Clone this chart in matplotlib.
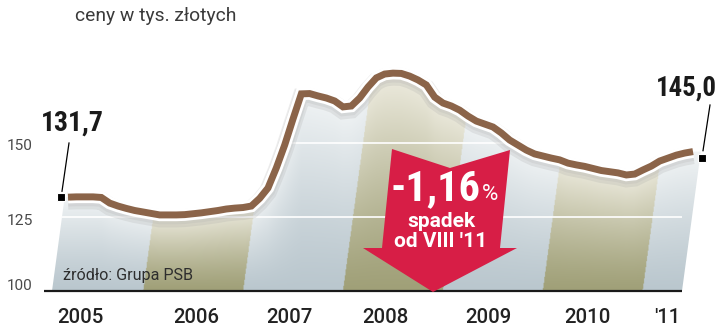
import numpy as np
import matplotlib
matplotlib.use('Agg')
import matplotlib.pyplot as plt
from matplotlib import font_manager as fm
from matplotlib.patches import Polygon
import matplotlib.patheffects as pe

# ---------------- data ----------------
start_year, start_month = 2005, 4          # first monthly reading
prices = [131.7, 131.8, 131.8, 131.8, 131.6, 129.7, 128.7, 127.9, 127.2, 126.7,
          126.2, 125.7, 125.7, 125.7, 125.8, 126.1, 126.4, 126.8, 127.2, 127.7,
          128.0, 128.2, 128.7, 131.3, 134.8, 141.6, 149.3, 158.1, 166.6, 166.7,
          165.9, 165.2, 164.2, 162.2, 162.5, 165.2, 168.9, 172.0, 173.3, 173.6,
          173.5, 172.6, 171.3, 169.6, 165.5, 163.5, 162.5, 161.1, 159.1, 157.4,
          156.4, 155.4, 153.4, 151.0, 149.3, 147.6, 146.3, 145.6, 144.9, 144.3,
          143.2, 142.6, 142.1, 141.4, 140.7, 140.3, 139.9, 139.2, 139.5, 140.9,
          142.2, 143.9, 144.9, 145.9, 146.6, 147.1]
years = [2005, 2006, 2007, 2008, 2009, 2010, 2011]
year_labels = ['2005', '2006', '2007', '2008', '2009', '2010', "'11"]
yticks = [100, 125, 150]
first_value, last_value = 131.7, 145.0
first_label, last_label = '131,7', '145,0'
change_big, change_pct = '-1,16', '%'
change_l1, change_l2 = 'spadek', "od VIII '11"
title = 'ceny w tys. złotych'
source = 'źródło: Grupa PSB'

# ---------------- fonts ----------------
avail = {f.name for f in fm.fontManager.ttflist}
def pick(*names):
    for n in names:
        if n in avail:
            return n
    return 'DejaVu Sans'
F_REG = pick('Roboto', 'Open Sans', 'DejaVu Sans')
F_COND = pick('Roboto Condensed', 'Liberation Sans Narrow', 'Roboto', 'DejaVu Sans')

# ---------------- layout ----------------
W, H = 720, 330
fig = plt.figure(figsize=(W / 100, H / 100), dpi=100)
ax = fig.add_axes([0, 0, 1, 1])
PX0, PXY = 43, 100.0        # px of 2005.0 at baseline, px per year
PY0, PYV = 291, 2.96        # px of value 100, px per unit
def X(px): return 2005 + (px - PX0) / PXY
def Y(py): return 100 + (PY0 - py) / PYV
ax.set_xlim(X(0), X(W))
ax.set_ylim(Y(H), Y(0))
ax.axis('off')

skew = 0.135 * PYV / PXY      # years of shift per value unit
x_left, x_right = X(52), X(682)

t = start_year + (start_month - 1 + np.arange(len(prices))) / 12.0
v = np.array(prices)

# ---------------- banded gradient fill ----------------
blue_bot, blue_top = np.array([186, 199, 206]) / 255, np.array([241, 244, 245]) / 255
oliv_bot, oliv_top = np.array([160, 160, 120]) / 255, np.array([238, 236, 224]) / 255
xa, xb = x_left - 0.05, x_right + 0.35
ya, yb = 100, v.max() + 2
nx, ny = 900, 300
xg = np.linspace(xa, xb, nx)
yg = np.linspace(ya, yb, ny)
Xg, Yg = np.meshgrid(xg, yg)
band = np.floor(Xg - skew * (Yg - 100) - years[0]).astype(int)
local_top = np.interp(Xg, t, v)
tt = np.clip((Yg - 100) / (local_top - 100), 0, 1) ** 1.25
even = (band % 2 == 0)[..., None]
bot = np.where(even, blue_bot, oliv_bot)
top = np.where(even, blue_top, oliv_top)
img = bot + (top - bot) * tt[..., None]

clip_pts = [(x_left, 100), (x_left + skew * (v[0] - 100), v[0])]
clip_pts += list(zip(t, v))
clip_pts += [(x_right + skew * (v[-1] - 100), v[-1]), (x_right, 100)]
clip_poly = Polygon(clip_pts, closed=True, transform=ax.transData)
im = ax.imshow(img, extent=[xa, xb, ya, yb], origin='lower', aspect='auto',
               interpolation='bilinear', zorder=1)
im.set_clip_path(clip_poly)

# gridlines (white, inside fill)
for yv in yticks[1:]:
    gl = ax.hlines(yv, x_left, x_right, colors='white', lw=1.2, zorder=2)
    gl.set_clip_path(clip_poly)

# baseline
ax.hlines(100, X(44), x_right, colors='#1a1a1a', lw=1.6, zorder=3)

# ---------------- price line ----------------
ax.plot(t, v, color='#8b6449', lw=5.0, solid_joinstyle='miter', solid_capstyle='butt',
        zorder=5,
        path_effects=[pe.SimpleLineShadow(offset=(0, -2.5), shadow_color='#9a9a9a',
                                          alpha=0.18, rho=1, linewidth=13),
                      pe.SimpleLineShadow(offset=(0, -1.5), shadow_color='#9a9a9a',
                                          alpha=0.15, rho=1, linewidth=10.5),
                      pe.Stroke(linewidth=9, foreground='white'),
                      pe.Normal()])

# end markers + leader lines
mx0, my0 = t[0] - 0.07, first_value
mx1, my1 = t[-1] + 0.09, last_value
ax.plot([mx0, mx1], [my0, my1], ls='none', marker='s', ms=5.5, color='black',
        mec='white', mew=0.8, zorder=7)
ax.plot([mx0 + 0.01, mx0 + 0.08], [my0 + 2.0, Y(143)], color='black', lw=0.9, zorder=6)
ax.plot([mx1 + 0.01, mx1 + 0.08], [my1 + 2.4, Y(105)], color='black', lw=0.9, zorder=6)

def ftext(px, py, s, **kw):
    return fig.text(px / W, 1 - py / H, s, **kw)

renderer = fig.canvas.get_renderer()
def fit(txt, target_w, lo=0.8, hi=1.2):
    w = txt.get_window_extent(renderer).width
    r = min(max(target_w / w, lo), hi)
    txt.set_fontsize(txt.get_fontsize() * r)

lab0 = ftext(72, 131, first_label, ha='center', va='baseline', fontsize=22,
             family=F_COND, weight='bold', color='#1a1a1a')
fit(lab0, 63)
lab1 = ftext(686, 96, last_label, ha='center', va='baseline', fontsize=22,
             family=F_COND, weight='bold', color='#1a1a1a')
fit(lab1, 61)

# ---------------- arrow ----------------
arrow_px = [(392, 149), (450, 168), (510, 150), (500, 248), (517, 248),
            (433, 292), (363, 248), (382, 248)]
ax.add_patch(Polygon([(X(a), Y(b)) for a, b in arrow_px], closed=True,
                     facecolor='#d71e46', edgecolor='none', zorder=8))
big = ftext(436, 200, change_big, ha='center', va='baseline', fontsize=30,
            family=F_COND, weight='bold', color='white', zorder=9)
fit(big, 90)
bb = big.get_window_extent(renderer)
ftext(bb.x1 + 1, 200, change_pct, ha='left', va='baseline', fontsize=16,
      family=F_REG, color='white', zorder=9)
l1 = ftext(441, 227, change_l1, ha='center', va='baseline', fontsize=14,
           family=F_REG, weight='bold', color='white', zorder=9)
fit(l1, 68)
l2 = ftext(441, 247, change_l2, ha='center', va='baseline', fontsize=14,
           family=F_REG, weight='bold', color='white', zorder=9)
fit(l2, 93)

# ---------------- texts ----------------
tt_ = ftext(75, 21, title, ha='left', va='baseline', fontsize=13, family=F_REG,
            weight='normal', color='#3a3a3a')
fit(tt_, 161)
for yv, py in zip(yticks, [290, 225, 150]):
    tk = ftext(7, py, str(yv), ha='left', va='baseline', fontsize=10.5,
               family=F_REG, weight='normal', color='#4a4a4a')
    fit(tk, 26)
src = ftext(63, 280, source, ha='left', va='baseline', fontsize=11.5, family=F_REG,
            weight='normal', color='#2e2e2e', zorder=4)
fit(src, 130)
label_px = [80, 196, 289, 385, 488, 587, 667]
for lab, px in zip(year_labels, label_px):
    yl = ftext(px, 323, lab, ha='center', va='baseline', fontsize=14.5,
               family=F_REG, weight='medium', color='#222222')
    if lab.isdigit():
        fit(yl, 46)

fig.savefig('out.png', dpi=100)
